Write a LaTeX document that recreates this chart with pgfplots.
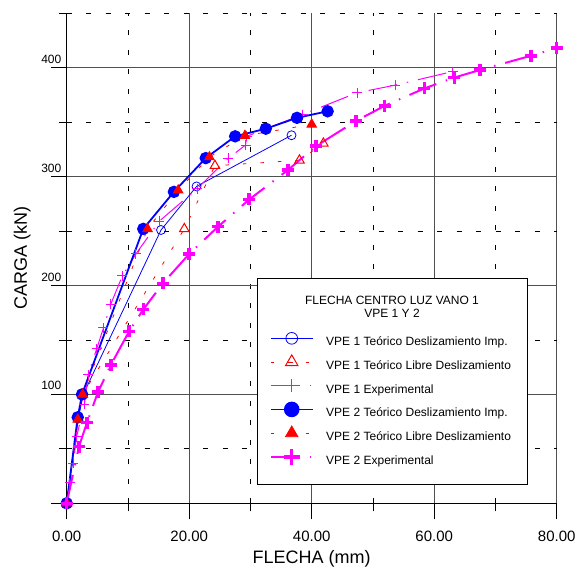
\documentclass[border=0pt]{standalone}
\usepackage{fontspec}
\setmainfont{Liberation Sans}
\usepackage{pgfplots}
\pgfplotsset{compat=1.18}
\definecolor{vblue}{RGB}{0,0,255}
\definecolor{vred}{RGB}{255,0,0}
\definecolor{vmag}{RGB}{255,0,255}
\definecolor{gridmaj}{RGB}{80,80,80}
\begin{document}
\begin{tikzpicture}
\begin{axis}[
  scale only axis, width=490pt, height=490pt,
  xmin=0, xmax=80, ymin=0, ymax=450,
  clip=false,
  axis x line=bottom, axis y line=left,
  axis line style={-, line width=1pt, black},
  xtick={0,20,40,60,80}, minor xtick={10,30,50,70},
  ytick={0,100,200,300,400}, minor ytick={50,150,250,350,450},
  xticklabels={0.00,20.00,40.00,60.00,80.00},
  yticklabels={,100,200,300,400},
  tick align=outside, major tick length=16pt, minor tick length=8pt,
  tick style={black, line width=0.8pt},
  grid=both,
  major grid style={gridmaj, line width=1pt},
  minor grid style={black, line width=0.8pt, dash pattern=on 5pt off 14.5pt},
  xticklabel style={font=\fontsize{15}{15}\selectfont, anchor=base, inner sep=0pt, yshift=-22.5pt},
  yticklabel style={font=\fontsize{12}{12}\selectfont, anchor=base east, inner sep=0pt, xshift=10.8pt, yshift=4.5pt},
  xlabel={FLECHA (mm)},
  xlabel style={font=\fontsize{18}{18}\selectfont, at={(axis description cs:0.5,0)}, anchor=base, inner sep=0pt, yshift=-60pt},
  ylabel={CARGA (kN)},
  ylabel style={font=\fontsize{18}{18}\selectfont, at={(axis description cs:0,0.5)}, anchor=base, inner sep=0pt, yshift=39.7pt},
  legend style={at={(axis cs:33.31,156.0)}, anchor=north west, draw=none, fill=none,
    inner sep=0pt, row sep=8.7pt, font=\fontsize{12}{12}\selectfont,
    nodes={inner sep=0pt, text height=9pt, text depth=3pt},
    /tikz/every odd column/.append style={column sep=13.7pt}},
  legend cell align=left,
  legend image code/.code={\pgfpathrectangle{\pgfpoint{0pt}{-3pt}}{\pgfpoint{41.6pt}{12pt}}\pgfusepath{use as bounding box}%
    \draw[mark repeat=2,mark phase=2,#1] plot coordinates {(0pt,4.3pt)(20.8pt,4.3pt)(41.6pt,4.3pt)};},
  legend image post style={every mark/.append style={scale=1.3}},
]
\addplot[vblue, line width=0.8pt, mark=o, mark size=4.5pt, mark options={solid, vblue, line width=0.8pt}]
  coordinates {(0,0)(1.9,78)(2.7,100)(15.4,251)(21.2,291)(36.7,338)};
\addlegendentry{VPE 1 Teórico Deslizamiento Imp.}
\addplot[vred, line width=0.8pt, dash pattern=on 3.5pt off 14pt, mark=triangle, mark size=5.5pt, mark options={solid, vred, line width=1pt}]
  coordinates {(0,0)(1.9,78)(2.6,100)(19.2,252)(24.2,310)(38.0,315)(41.9,330.5)};
\addlegendentry{VPE 1 Teórico Libre Deslizamiento}
\addplot[vmag, line width=1pt, dash pattern=on 29pt off 10pt on 1.5pt off 10pt, mark=+, mark size=5pt, mark options={solid, vmag, line width=1pt}]
  coordinates {(0,0)(0.5,19)(1.1,37)(1.6,61)(2.9,91)(3.5,118)(4.9,142)(6.0,161)(7.2,183)(9.1,209)(11.3,229)(15.1,259)(21.3,289)(26.4,317)(29.2,329)(29.4,337)(38.5,357)(47.4,377)(53.6,384)(63.0,396.5)};
\addlegendentry{VPE 1 Experimental}
\addplot[vblue, line width=1.8pt, mark=*, mark size=5.3pt, mark options={solid, vblue}]
  coordinates {(0,0)(1.8,79)(2.5,100)(12.5,252)(17.5,286)(22.7,317)(27.5,337)(32.5,344)(37.6,354)(42.6,360)};
\addlegendentry{VPE 2 Teórico Deslizamiento Imp.}
\addplot[vred, line width=0.8pt, dash pattern=on 3.5pt off 14pt, mark=triangle*, mark size=5.5pt, mark options={solid, vred, fill=vred}]
  coordinates {(0,0)(1.8,77)(2.6,100)(13.2,252)(18.2,287.5)(23.3,318)(29.1,337.6)(40.0,348)};
\addlegendentry{VPE 2 Teórico Libre Deslizamiento}
\addplot[vmag, line width=2pt, dash pattern=on 29pt off 10pt on 1.5pt off 10pt, mark=+, mark size=6pt, mark options={solid, vmag, line width=3.5pt}]
  coordinates {(0,0)(2.0,52)(3.3,74)(5.1,102)(7.2,127)(10.2,158)(12.5,178)(15.7,202)(20.0,229)(24.7,254)(29.8,279)(36.1,306)(40.7,328)(47.2,351)(51.9,365)(58.4,381)(63.3,391)(67.5,398)(75.8,411)(80.0,418)};
\addlegendentry{VPE 2 Experimental}
\draw[black, line width=0.8pt, fill=white] (axis cs:31.07,17.3) rectangle (axis cs:75.15,206.5);
\node[font=\fontsize{12}{13}\selectfont, align=center, inner sep=0pt] at (axis cs:53.11,180.2) {FLECHA CENTRO LUZ VANO 1\\VPE 1 Y 2};
\path (axis cs:-10.89,-59.4) rectangle (axis cs:83.31,462.2);
\end{axis}
\end{tikzpicture}
\end{document}
